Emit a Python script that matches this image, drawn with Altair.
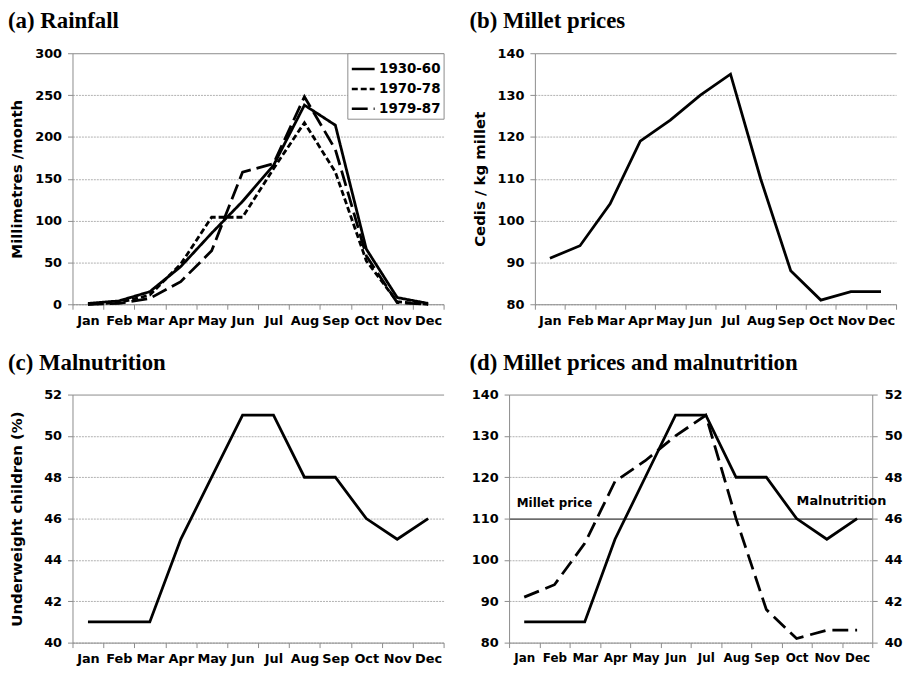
import altair as alt
import pandas as pd

months = ["Jan", "Feb", "Mar", "Apr", "May", "Jun", "Jul", "Aug", "Sep", "Oct", "Nov", "Dec"]
series_names = ["1930-60", "1970-78", "1979-87"]
rain_1930_60 = [1, 4, 15, 45, 85, 123, 166, 238, 214, 66, 8, 1]
rain_1970_78 = [0, 2, 11, 48, 104, 104, 162, 217, 158, 52, 3, 0]
rain_1979_87 = [0, 1, 7, 27, 64, 158, 168, 248, 185, 58, 2, 0]
millet_price = [91, 94, 104, 119, 124, 130, 135, 110, 88, 81, 83, 83]
underweight = [41, 41, 41, 45, 48, 51, 51, 48, 48, 46, 45, 46]

rain_ticks = [0, 50, 100, 150, 200, 250, 300]
price_ticks = [80, 90, 100, 110, 120, 130, 140]
under_ticks = [40, 42, 44, 46, 48, 50, 52]

titles = ["(a) Rainfall", "(b) Millet prices", "(c) Malnutrition", "(d) Millet prices and malnutrition"]
ytitles = ["Millimetres /month", "Cedis / kg millet", "Underweight children (%)"]
labels_d = ["Millet price", "Malnutrition"]
label_month_d = ["Feb", "Oct"]
label_value_d = [113.8, 46.85]

FONT = "DejaVu Sans"
GRAY = "#8c8c8c"
GRID = "#b0b0b0"
LW = 2.8

rain_df = pd.DataFrame({
    "month": months * 3,
    "series": [series_names[0]] * 12 + [series_names[1]] * 12 + [series_names[2]] * 12,
    "value": rain_1930_60 + rain_1970_78 + rain_1979_87,
})
price_df = pd.DataFrame({"month": months, "value": millet_price})
under_df = pd.DataFrame({"month": months, "value": underweight})
price_label_df = pd.DataFrame({"month": [label_month_d[0]], "value": [label_value_d[0]], "label": [labels_d[0]]})
under_label_df = pd.DataFrame({"month": [label_month_d[1]], "value": [label_value_d[1]], "label": [labels_d[1]]})


def xenc(size=13):
    return alt.X(
        "month:N",
        sort=months,
        scale=alt.Scale(type="band", domain=months, paddingInner=0, paddingOuter=0),
        axis=alt.Axis(
            title=None, labelAngle=0, labelFont=FONT, labelFontWeight="bold", labelFontSize=size,
            labelColor="black", tickBand="extent", domainColor=GRAY, tickColor=GRAY, tickSize=5,
            labelPadding=5, grid=False,
        ),
    )


def yaxis(title, ticks, dark=None, orient="left"):
    top = ticks[-1]
    test_top = f"datum.value === {top}"
    if dark is None:
        color_cond = {"condition": {"test": test_top, "value": GRAY}, "value": GRID}
        dash_cond = {"condition": {"test": test_top, "value": []}, "value": [2, 1]}
    else:
        test_dark = f"datum.value === {dark}"
        color_cond = {"condition": [{"test": test_top, "value": GRAY},
                                    {"test": test_dark, "value": "black"}],
                      "value": GRID}
        dash_cond = {"condition": [{"test": test_top, "value": []},
                                   {"test": test_dark, "value": []}],
                     "value": [2, 1]}
    kw = dict(
        values=ticks, orient=orient, labelFont=FONT, labelFontWeight="bold", labelFontSize=13,
        labelColor="black", domainColor=GRAY, tickColor=GRAY, tickSize=5, labelPadding=6,
        titleFont=FONT, titleFontWeight="bold", titleFontSize=15, titleColor="black",
        titlePadding=11, title=title,
    )
    if orient == "left":
        kw.update(grid=True, gridColor=color_cond, gridDash=dash_cond, gridWidth=1,
                  minExtent=37, maxExtent=37)
    else:
        kw.update(grid=False, minExtent=30, maxExtent=30, labelPadding=7)
    return alt.Axis(**kw)


def ttl(text, dx, size=23):
    return alt.TitleParams(text=text, font="Liberation Serif", fontSize=size, fontWeight="bold",
                           color="black", anchor="start", frame="group", dx=dx, offset=14)


# (a) Rainfall
chart_a = alt.Chart(rain_df).mark_line(color="black", strokeWidth=LW).encode(
    x=xenc(),
    y=alt.Y("value:Q", scale=alt.Scale(domain=[0, 300]), axis=yaxis(ytitles[0], rain_ticks)),
    strokeDash=alt.StrokeDash(
        "series:N",
        scale=alt.Scale(domain=series_names, range=[[1, 0], [6, 3], [16, 6]]),
        legend=alt.Legend(
            title=None, orient="top-right", offset=0, strokeColor=GRAY, fillColor="white",
            padding=3, labelFont=FONT, labelFontWeight="bold", labelFontSize=13.5,
            labelColor="black", symbolType="stroke", symbolSize=529, symbolStrokeWidth=2.5,
            symbolStrokeColor="black", rowPadding=0, labelOffset=3,
        ),
    ),
).properties(width=374, height=253, title=ttl(titles[0], -65))

# (b) Millet prices
chart_b = alt.Chart(price_df).mark_line(color="black", strokeWidth=LW).encode(
    x=xenc(),
    y=alt.Y("value:Q", scale=alt.Scale(domain=[80, 140]), axis=yaxis(ytitles[1], price_ticks)),
).properties(width=364, height=253, title=ttl(titles[1], -66))

# (c) Malnutrition
chart_c = alt.Chart(under_df).mark_line(color="black", strokeWidth=LW).encode(
    x=xenc(),
    y=alt.Y("value:Q", scale=alt.Scale(domain=[40, 52]), axis=yaxis(ytitles[2], under_ticks)),
).properties(width=374, height=250, title=ttl(titles[2], -65))

# (d) Millet prices and malnutrition
price_line = alt.Chart(price_df).mark_line(color="black", strokeWidth=LW, strokeDash=[16, 7]).encode(
    x=xenc(12),
    y=alt.Y("value:Q", scale=alt.Scale(domain=[80, 140]), axis=yaxis(None, price_ticks, dark=110)),
)
price_text = alt.Chart(price_label_df).mark_text(
    font=FONT, fontWeight="bold", fontSize=12, color="black", align="center", baseline="middle"
).encode(x=alt.X("month:N"), y=alt.Y("value:Q"), text="label:N")
left = alt.layer(price_line, price_text)

under_line = alt.Chart(under_df).mark_line(color="black", strokeWidth=LW).encode(
    x=xenc(12),
    y=alt.Y("value:Q", scale=alt.Scale(domain=[40, 52]), axis=yaxis(None, under_ticks, orient="right")),
)
under_text = alt.Chart(under_label_df).mark_text(
    font=FONT, fontWeight="bold", fontSize=13, color="black", align="left", baseline="middle"
).encode(x=alt.X("month:N"), y=alt.Y("value:Q"), text="label:N")
right = alt.layer(under_line, under_text)

chart_d = alt.layer(left, right).resolve_scale(y="independent").properties(
    width=366, height=250, title=ttl(titles[3], -40)
)

row1 = (
    alt.hconcat(chart_a, chart_b, spacing=25)
    .resolve_scale(strokeDash="independent")
    .resolve_legend(strokeDash="independent")
)
row2 = alt.hconcat(chart_c, chart_d, spacing=25)
chart = (
    alt.vconcat(row1, row2, spacing=25)
    .resolve_scale(strokeDash="independent")
    .resolve_legend(strokeDash="independent")
    .properties(padding=0)
    .configure_view(stroke=None)
)

chart.save("out.html", embed_options={"renderer": "svg", "actions": False})
